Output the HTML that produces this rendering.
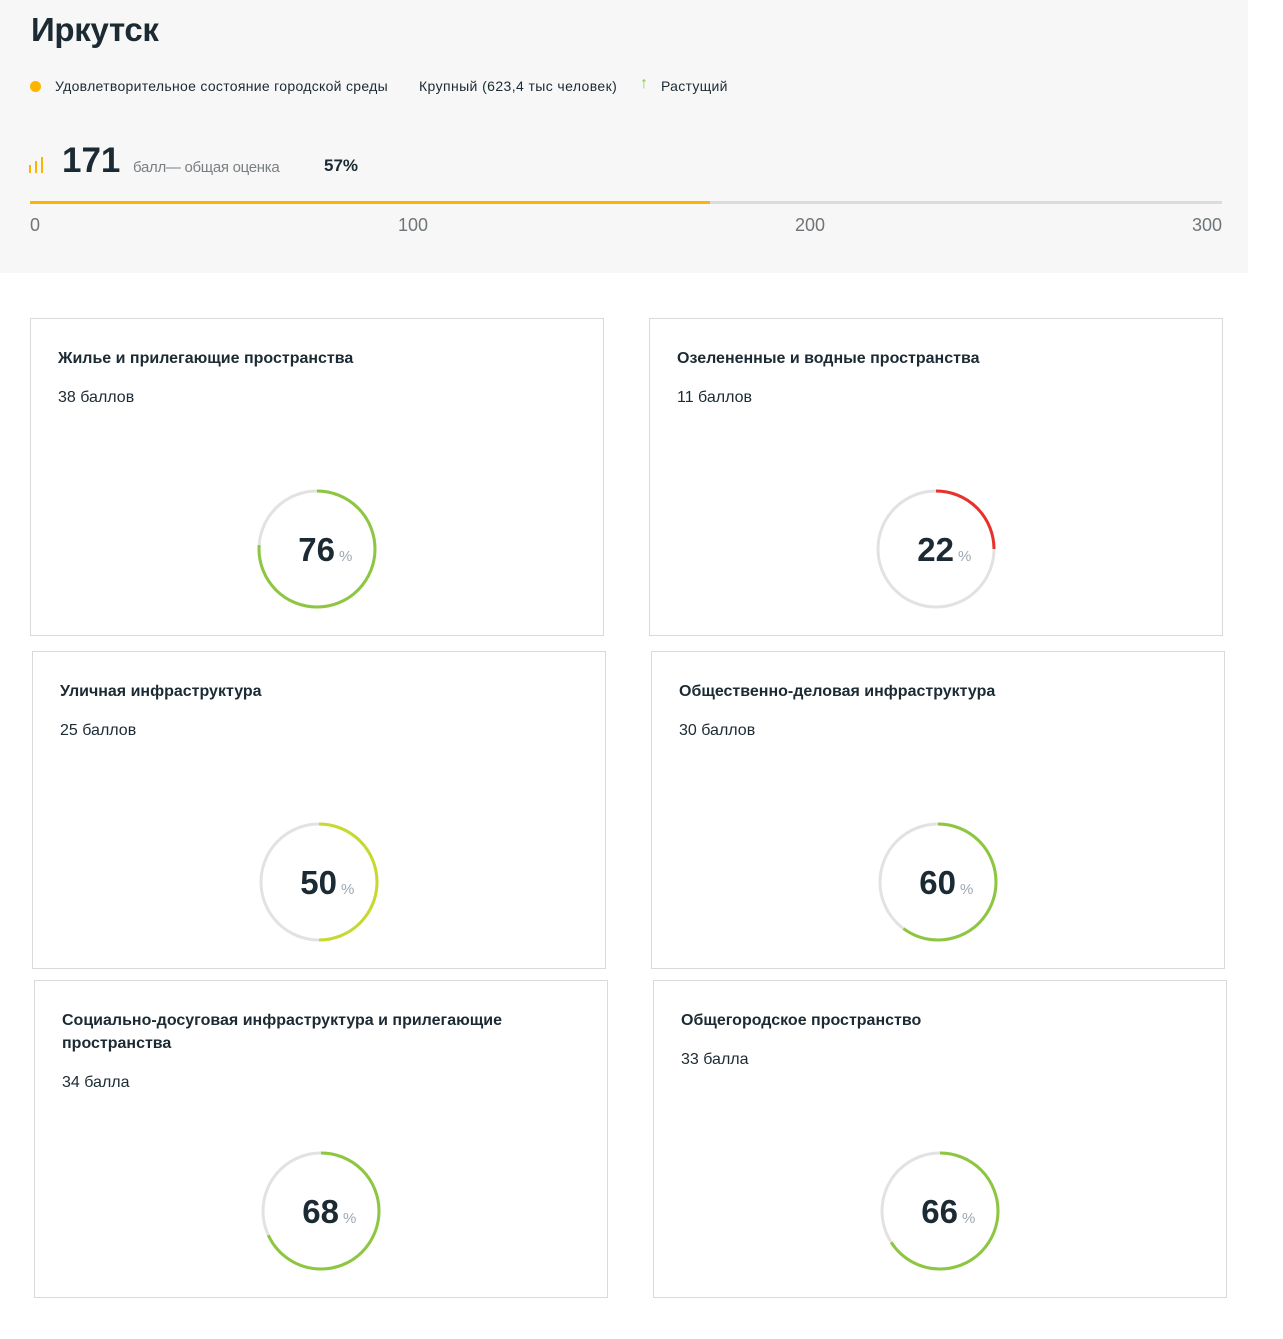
<!DOCTYPE html>
<html><head><meta charset="utf-8"><style>
*{margin:0;padding:0;box-sizing:border-box}
body{width:1283px;height:1339px;background:#fff;font-family:"Liberation Sans",sans-serif;color:#1b2a33;position:relative;overflow:hidden}
.a{position:absolute;white-space:nowrap}
.hdr{position:absolute;left:0;top:0;width:1248px;height:273px;background:#f7f7f7}
.card{position:absolute;width:574px;height:318px;border:1px solid #d9d9d9;background:#fff}
.card .t{position:absolute;left:27px;top:28px;font-size:16px;font-weight:bold;line-height:23px;color:#1b2a33}
.card .s{position:absolute;left:27px;font-size:16px;color:#1b2a33}
.card svg{position:absolute;left:224px;top:168px}
</style></head><body>
<div class="hdr"></div>
<div class="a" style="left:31px;top:11px;font-size:33px;font-weight:bold;letter-spacing:-0.3px">Иркутск</div>
<div class="a" style="left:30px;top:81px;width:11px;height:11px;border-radius:50%;background:#fbb400"></div>
<div class="a" style="left:55px;top:78px;font-size:14px;letter-spacing:0.3px">Удовлетворительное состояние городской среды</div>
<div class="a" style="left:419px;top:78px;font-size:14px;letter-spacing:0.4px">Крупный (623,4 тыс человек)</div>
<div class="a" style="left:640px;top:75px;font-size:16px;color:#8dc63f;font-weight:bold">↑</div>
<div class="a" style="left:661px;top:78px;font-size:14px;letter-spacing:0.3px">Растущий</div>
<svg class="a" style="left:29px;top:155px" width="18" height="18"><rect x="0" y="10" width="2" height="8" fill="#fbb400"/><rect x="6" y="6" width="2" height="12" fill="#fbb400"/><rect x="12" y="2" width="2" height="16" fill="#fbb400"/></svg>
<div class="a" style="left:62px;top:141px;font-size:35px;font-weight:bold">171</div>
<div class="a" style="left:133px;top:159px;font-size:15px;color:#7a7f83;letter-spacing:-0.3px">балл— общая оценка</div>
<div class="a" style="left:324px;top:156px;font-size:17px;font-weight:bold">57%</div>
<div class="a" style="left:30px;top:201px;width:1192px;height:3px;background:#dcdcdc"></div>
<div class="a" style="left:30px;top:201px;width:680px;height:3px;background:#fbb400"></div>
<div class="a" style="left:30px;top:215px;font-size:18px;color:#6f7478">0</div>
<div class="a" style="left:398px;top:215px;font-size:18px;color:#6f7478">100</div>
<div class="a" style="left:795px;top:215px;font-size:18px;color:#6f7478">200</div>
<div class="a" style="left:1192px;top:215px;font-size:18px;color:#6f7478">300</div>

<div class="card" style="left:30px;top:318px"><div class="t">Жилье и прилегающие пространства</div><div class="s" style="top:70px">38 баллов</div>
<svg width="124" height="124"><circle cx="62" cy="62" r="58" fill="none" stroke="#e2e2e2" stroke-width="3"/><circle cx="62" cy="62" r="58" fill="none" stroke="#8dc63f" stroke-width="3" stroke-dasharray="277 400" transform="rotate(-90 62 62)"/><text x="80" y="74" text-anchor="end" font-family="Liberation Sans" font-weight="bold" font-size="33" fill="#1b2a33">76</text><text x="84" y="74" font-family="Liberation Sans" font-size="15" fill="#9aa8b4">%</text></svg></div>

<div class="card" style="left:649px;top:318px"><div class="t">Озелененные и водные пространства</div><div class="s" style="top:70px">11 баллов</div>
<svg width="124" height="124"><circle cx="62" cy="62" r="58" fill="none" stroke="#e2e2e2" stroke-width="3"/><circle cx="62" cy="62" r="58" fill="none" stroke="#e8312a" stroke-width="3" stroke-dasharray="91 400" transform="rotate(-90 62 62)"/><text x="80" y="74" text-anchor="end" font-family="Liberation Sans" font-weight="bold" font-size="33" fill="#1b2a33">22</text><text x="84" y="74" font-family="Liberation Sans" font-size="15" fill="#9aa8b4">%</text></svg></div>

<div class="card" style="left:32px;top:651px"><div class="t">Уличная инфраструктура</div><div class="s" style="top:70px">25 баллов</div>
<svg width="124" height="124"><circle cx="62" cy="62" r="58" fill="none" stroke="#e2e2e2" stroke-width="3"/><circle cx="62" cy="62" r="58" fill="none" stroke="#c8d92e" stroke-width="3" stroke-dasharray="182 400" transform="rotate(-90 62 62)"/><text x="80" y="74" text-anchor="end" font-family="Liberation Sans" font-weight="bold" font-size="33" fill="#1b2a33">50</text><text x="84" y="74" font-family="Liberation Sans" font-size="15" fill="#9aa8b4">%</text></svg></div>

<div class="card" style="left:651px;top:651px"><div class="t">Общественно-деловая инфраструктура</div><div class="s" style="top:70px">30 баллов</div>
<svg width="124" height="124"><circle cx="62" cy="62" r="58" fill="none" stroke="#e2e2e2" stroke-width="3"/><circle cx="62" cy="62" r="58" fill="none" stroke="#8dc63f" stroke-width="3" stroke-dasharray="219 400" transform="rotate(-90 62 62)"/><text x="80" y="74" text-anchor="end" font-family="Liberation Sans" font-weight="bold" font-size="33" fill="#1b2a33">60</text><text x="84" y="74" font-family="Liberation Sans" font-size="15" fill="#9aa8b4">%</text></svg></div>

<div class="card" style="left:34px;top:980px"><div class="t">Социально-досуговая инфраструктура и прилегающие<br>пространства</div><div class="s" style="top:93px">34 балла</div>
<svg width="124" height="124"><circle cx="62" cy="62" r="58" fill="none" stroke="#e2e2e2" stroke-width="3"/><circle cx="62" cy="62" r="58" fill="none" stroke="#8dc63f" stroke-width="3" stroke-dasharray="248 400" transform="rotate(-90 62 62)"/><text x="80" y="74" text-anchor="end" font-family="Liberation Sans" font-weight="bold" font-size="33" fill="#1b2a33">68</text><text x="84" y="74" font-family="Liberation Sans" font-size="15" fill="#9aa8b4">%</text></svg></div>

<div class="card" style="left:653px;top:980px"><div class="t">Общегородское пространство</div><div class="s" style="top:70px">33 балла</div>
<svg width="124" height="124"><circle cx="62" cy="62" r="58" fill="none" stroke="#e2e2e2" stroke-width="3"/><circle cx="62" cy="62" r="58" fill="none" stroke="#8dc63f" stroke-width="3" stroke-dasharray="240 400" transform="rotate(-90 62 62)"/><text x="80" y="74" text-anchor="end" font-family="Liberation Sans" font-weight="bold" font-size="33" fill="#1b2a33">66</text><text x="84" y="74" font-family="Liberation Sans" font-size="15" fill="#9aa8b4">%</text></svg></div>
</body></html>
